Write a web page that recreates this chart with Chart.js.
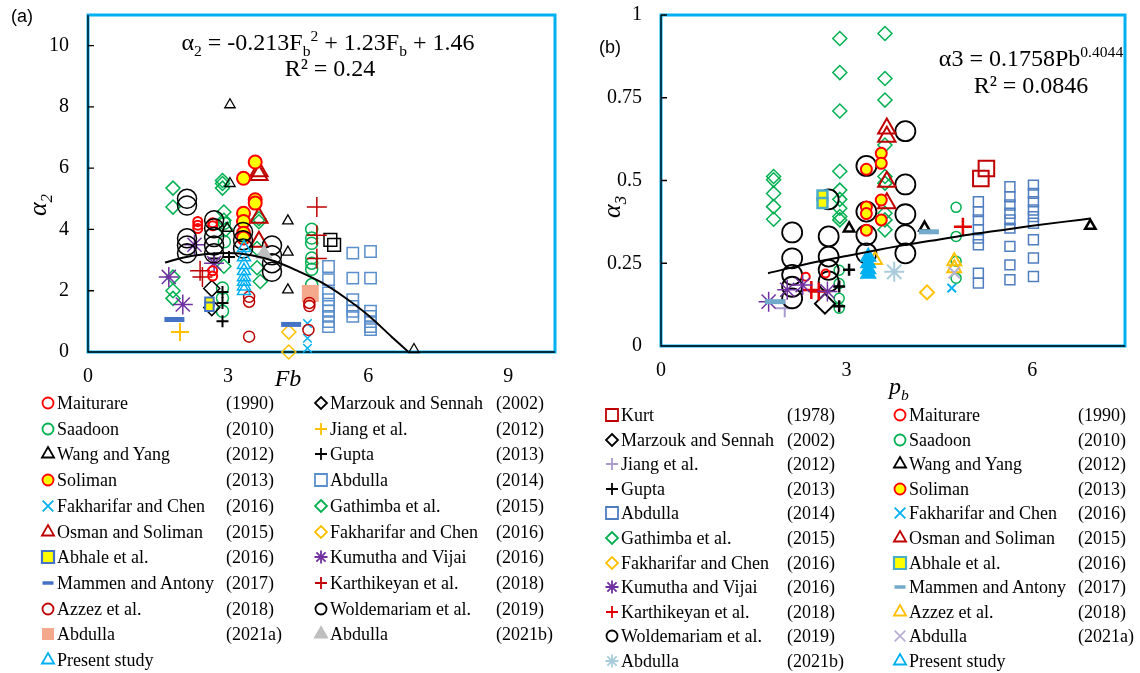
<!DOCTYPE html>
<html>
<head>
<meta charset="utf-8">
<script src="https://cdn.jsdelivr.net/npm/chart.js@4.4.1/dist/chart.umd.min.js"></script>
<style>
  body { margin: 0; background: #fff; }
  #wrap { position: relative; width: 1140px; height: 673px; overflow: hidden;
          font-family: "Liberation Serif", "Times New Roman", serif; color: #000; }
  .cv { position: absolute; top: 0; width: 570px; height: 395px; }
  .t { position: absolute; white-space: nowrap; line-height: 1; transform: translate(-50%, -50%); }
  .t sub, .t sup { font-size: 0.65em; line-height: 0; }
  .lg { position: absolute; white-space: nowrap; font-size: 18px; line-height: 22px; }
  .mk { position: absolute; }
  .tag { position: absolute; font-family: "Liberation Sans", Arial, sans-serif; font-size: 18px; line-height: 1; }
</style>
</head>
<body>
<div id="wrap">
  <div class="cv" style="left:0"><canvas id="chartA" width="570" height="395"></canvas></div>
  <div class="cv" style="left:570px"><canvas id="chartB" width="570" height="395"></canvas></div>

  <div class="tag" style="left:11px;top:7px">(a)</div>
  <div class="tag" style="left:599px;top:38px">(b)</div>

  <div class="t" style="left:328px;top:42px;font-size:24px">α<sub>2</sub> = -0.213F<sub>b</sub><sup>2</sup> + 1.23F<sub>b</sub> + 1.46</div>
  <div class="t" style="left:330px;top:68px;font-size:24px">R² = 0.24</div>
  <div class="t" style="left:1031px;top:58px;font-size:24px">α3 = 0.1758Pb<sup>0.4044</sup></div>
  <div class="t" style="left:1031px;top:85px;font-size:24px">R² = 0.0846</div>

  <div class="t" style="left:38px;top:205px;font-size:26px;font-style:italic;transform:translate(-50%,-50%) rotate(-90deg)">α<sub>2</sub></div>
  <div class="t" style="left:288px;top:378px;font-size:24px;font-style:italic">Fb</div>
  <div class="t" style="left:612px;top:207px;font-size:26px;font-style:italic;transform:translate(-50%,-50%) rotate(-90deg)">α<sub>3</sub></div>
  <div class="t" style="left:899px;top:386px;font-size:24px;font-style:italic">p<sub>b</sub></div>
</div>

<script>
// ---------- axes ----------
const xTicksA = [0, 3, 6, 9];
const yTicksA = [0, 2, 4, 6, 8, 10];
const xTicksB = [0, 3, 6];
const yTicksB = [0, 0.25, 0.5, 0.75, 1];

// ---------- panel (a) : alpha2 vs Fb ----------
const aTrend = [[1.65, 2.92], [2.0, 3.07], [2.5, 3.19], [3.0, 3.23], [3.5, 3.16], [4.0, 2.96],
                [4.5, 2.64], [5.0, 2.27], [5.5, 1.78], [6.0, 1.2], [6.5, 0.5], [6.85, 0.02]];
const aMaiturare = [[2.35, 4.26], [2.35, 4.14], [2.35, 4.03], [2.67, 4.22], [2.67, 4.12], [2.67, 2.65], [2.67, 2.48]];
const aSaadoon = [[4.79, 4.01], [4.79, 3.72], [4.79, 3.55], [4.79, 3.07], [4.79, 2.9], [4.79, 2.7], [4.79, 2.2],
                  [2.88, 2.09], [2.88, 1.76], [2.88, 1.33], [2.92, 4.2], [2.92, 3.6]];
const aWang = [[3.04, 8.07], [3.04, 5.5], [2.98, 4.04], [4.28, 4.28], [4.28, 3.26], [4.28, 2.03], [6.98, 0.08]];
const aSoliman = [[3.58, 6.2], [3.33, 5.67], [3.58, 4.97], [3.58, 4.86], [3.33, 4.53], [3.33, 4.26], [3.33, 3.88], [3.33, 3.72]];
const aFakX = [[4.7, 0.93], [4.7, 0.45], [4.7, 0.12]];
const aOsman = [[3.66, 5.9], [3.66, 5.78], [3.66, 4.38], [3.66, 3.6]];
const aAbhale = [[2.6, 1.64], [2.6, 1.48]];
const aMammen = [[1.85, 1.06], [4.35, 0.9]];
const aAzzez = [[3.45, 1.8], [3.45, 1.64], [4.74, 1.6], [4.74, 1.5], [4.72, 0.72], [3.45, 0.5]];
const aAbd21a = [[4.76, 1.91]];
const aPresent = [[3.34, 3.4], [3.34, 3.1], [3.34, 2.85], [3.34, 2.65], [3.34, 2.45], [3.34, 2.3], [3.34, 2.15], [3.34, 2.0]];
const aMarzouk = [[2.65, 2.07], [2.65, 1.45]];
const aJiang = [[1.97, 0.65]];
const aGupta = [[2.88, 1.96], [2.88, 1.6], [2.88, 1.0], [3.02, 3.1], [2.7, 3.05]];
const aAbd14 = [[5.15, 2.79], [5.15, 2.36], [5.15, 1.93], [5.15, 1.71], [5.15, 1.49], [5.15, 1.33], [5.15, 1.16], [5.15, 0.99], [5.15, 0.83],
                [5.67, 3.23], [5.67, 2.41], [5.67, 1.71], [5.67, 1.49], [5.67, 1.33], [5.67, 1.16],
                [6.05, 3.28], [6.05, 2.41], [6.05, 1.33], [6.05, 1.16], [6.05, 0.99], [6.05, 0.83], [6.05, 0.73]];
const aGathimba = [[1.82, 5.35], [1.82, 4.73], [1.82, 2.45], [1.82, 2.0], [1.82, 1.75],
                   [2.88, 5.6], [2.88, 5.5], [2.88, 5.35], [2.91, 4.57], [2.91, 4.3], [2.95, 4.0], [2.91, 2.8],
                   [3.66, 4.35], [3.66, 4.25], [3.62, 3.38], [3.62, 2.75], [3.69, 2.3]];
const aFakD = [[4.3, 0.65], [4.3, 0.0]];
const aKumutha = [[1.73, 2.45], [2.03, 1.55], [2.28, 3.5], [2.7, 2.9]];
const aKarth = [[4.9, 4.73], [4.9, 3.81], [4.9, 3.05], [2.4, 2.65], [2.45, 2.45]];
const aWolde = [[2.12, 5.0], [2.12, 4.78], [2.12, 3.71], [2.12, 3.48], [2.12, 3.22],
                [2.7, 4.3], [2.7, 4.04], [2.7, 3.75], [2.7, 3.48], [2.7, 3.22],
                [3.32, 3.92], [3.32, 3.65], [3.32, 3.38], [3.94, 3.48], [3.94, 3.16], [3.94, 2.9], [3.94, 2.62]];
const aAbd21b = [[3.77, 3.21]];
const aBlackSq = [[5.19, 3.66], [5.27, 3.5]];

// ---------- panel (b) : alpha3 vs pb ----------
const bTrend = [[1.73, 0.22], [2.5, 0.254], [3.0, 0.272], [3.5, 0.29], [4.0, 0.307], [4.5, 0.322],
                [5.0, 0.337], [5.5, 0.35], [6.0, 0.363], [6.5, 0.375], [6.94, 0.385]];
const bKurt = [[5.17, 0.506], [5.26, 0.536]];
const bMaiturare = [[2.34, 0.209], [2.66, 0.219]];
const bMarzouk = [[2.65, 0.128]];
const bSaadoon = [[4.77, 0.419], [4.77, 0.331], [4.77, 0.256], [4.77, 0.205],
                  [2.88, 0.229], [2.88, 0.189], [2.88, 0.144], [2.88, 0.114]];
const bJiang = [[2.0, 0.114]];
const bWang = [[3.04, 0.355], [4.26, 0.358], [6.94, 0.363]];
const bGupta = [[3.04, 0.23], [2.88, 0.18], [2.88, 0.12]];
const bSoliman = [[3.32, 0.534], [3.32, 0.42], [3.32, 0.4], [3.32, 0.35], [3.56, 0.582], [3.56, 0.552], [3.56, 0.441], [3.56, 0.381]];
const bAbd14 = [[5.13, 0.436], [5.13, 0.406], [5.13, 0.381], [5.13, 0.351], [5.13, 0.326], [5.13, 0.306], [5.13, 0.22], [5.13, 0.19],
                [5.64, 0.481], [5.64, 0.451], [5.64, 0.426], [5.64, 0.401], [5.64, 0.381], [5.64, 0.356], [5.64, 0.301], [5.64, 0.245], [5.64, 0.2],
                [6.02, 0.486], [6.02, 0.461], [6.02, 0.436], [6.02, 0.411], [6.02, 0.391], [6.02, 0.371], [6.02, 0.321], [6.02, 0.266], [6.02, 0.21]];
const bFakX = [[4.7, 0.175]];
const bGathimba = [[1.82, 0.512], [1.82, 0.502], [1.82, 0.461], [1.82, 0.421], [1.82, 0.383],
                   [2.89, 0.929], [2.89, 0.826], [2.89, 0.71], [2.89, 0.528], [2.89, 0.471], [2.89, 0.443], [2.89, 0.416], [2.89, 0.391], [2.89, 0.381],
                   [3.62, 0.944], [3.62, 0.808], [3.62, 0.743], [3.62, 0.607], [3.62, 0.512], [3.62, 0.492], [3.62, 0.401], [3.62, 0.381], [3.62, 0.351]];
const bOsman = [[3.65, 0.657], [3.65, 0.632], [3.65, 0.496], [3.65, 0.431]];
const bFakD = [[4.3, 0.162]];
const bAbhale = [[2.61, 0.455], [2.61, 0.432]];
const bKumutha = [[1.74, 0.134], [2.04, 0.17], [2.29, 0.184], [2.69, 0.165]];
const bMammen = [[1.84, 0.134], [4.33, 0.345]];
const bKarth = [[2.43, 0.169], [2.55, 0.165], [4.88, 0.36]];
const bAzzez = [[3.46, 0.26], [4.74, 0.256], [4.74, 0.235]];
const bWolde = [[2.12, 0.343], [2.12, 0.265], [2.12, 0.215], [2.12, 0.179], [2.12, 0.144],
                [2.71, 0.443], [2.71, 0.331], [2.71, 0.27], [2.71, 0.23], [2.71, 0.195],
                [3.32, 0.544], [3.32, 0.406], [3.32, 0.335], [3.32, 0.28],
                [3.95, 0.649], [3.95, 0.488], [3.95, 0.398], [3.95, 0.335], [3.95, 0.28]];
const bAbd21a = [[4.74, 0.222]];
const bAbd21b = [[3.77, 0.224]];
const bPresent = [[3.35, 0.27], [3.35, 0.25], [3.35, 0.232], [3.35, 0.218]];

// ---------- marker styles ----------
const NONE = "rgba(0,0,0,0)";
const stA = {
  maiturare: { shape: "circle", r: 4.5, bw: 2, border: "#FF0000" },
  saadoon:   { shape: "circle", r: 6, bw: 1.5, border: "#00B050" },
  wang:      { shape: "triangle", r: 6, bw: 1.3, border: "#000" },
  soliman:   { shape: "circle", r: 6.5, bw: 2, border: "#FF0000", bg: "#FFFF00" },
  fakX:      { shape: "crossRot", r: 6, bw: 1.5, border: "#00B0F0" },
  osman:     { shape: "triangle", r: 10, bw: 2, border: "#C00000" },
  abhale:    { shape: "rect", r: 6, bw: 2, border: "#4472C4", bg: "#FFFF00" },
  mammen:    { shape: "line", r: 10, bw: 5, border: "#4472C4" },
  azzez:     { shape: "circle", r: 5.5, bw: 1.5, border: "#C00000" },
  abd21a:    { shape: "rect", r: 12, bw: 0, border: "#F4A98C", bg: "#F4A98C" },
  present:   { shape: "triangle", r: 7.5, bw: 1.5, border: "#00B0F0" },
  marzouk:   { shape: "rectRot", r: 8, bw: 1.5, border: "#000" },
  jiang:     { shape: "cross", r: 9, bw: 2, border: "#FFC000" },
  gupta:     { shape: "cross", r: 6, bw: 2, border: "#000" },
  abd14:     { shape: "rect", r: 8, bw: 1.5, border: "#5B8FCC" },
  gathimba:  { shape: "rectRot", r: 7, bw: 1.5, border: "#00B050" },
  fakD:      { shape: "rectRot", r: 7, bw: 1.5, border: "#FFC000" },
  kumutha:   { shape: "star", r: 10, bw: 1.5, border: "#7030A0" },
  karth:     { shape: "cross", r: 10, bw: 1.5, border: "#C00000" },
  wolde:     { shape: "circle", r: 9.5, bw: 1.5, border: "#000" },
  abd21b:    { shape: "triangle", r: 9, bw: 1, border: "#BFBFBF", bg: "#BFBFBF" },
  blackSq:   { shape: "rect", r: 9, bw: 1.5, border: "#000" }
};
const stB = {
  kurt:      { shape: "rect", r: 11, bw: 2, border: "#C00000" },
  maiturare: { shape: "circle", r: 4, bw: 2, border: "#FF0000" },
  marzouk:   { shape: "rectRot", r: 10, bw: 2, border: "#000" },
  saadoon:   { shape: "circle", r: 5, bw: 1.5, border: "#00B050" },
  jiang:     { shape: "cross", r: 9, bw: 2, border: "#A99BCF" },
  wang:      { shape: "triangle", r: 6, bw: 2.5, border: "#000" },
  gupta:     { shape: "cross", r: 6, bw: 2.5, border: "#000" },
  soliman:   { shape: "circle", r: 5.5, bw: 2, border: "#FF0000", bg: "#FFFF00" },
  abd14:     { shape: "rect", r: 7, bw: 1.5, border: "#4F7EC0" },
  fakX:      { shape: "crossRot", r: 6, bw: 2, border: "#00B0F0" },
  gathimba:  { shape: "rectRot", r: 7, bw: 1.5, border: "#00B050" },
  osman:     { shape: "triangle", r: 10, bw: 2, border: "#C00000" },
  fakD:      { shape: "rectRot", r: 7, bw: 2, border: "#FFC000" },
  abhale:    { shape: "rect", r: 7, bw: 2.5, border: "#4BACC6", bg: "#FFFF00" },
  kumutha:   { shape: "star", r: 10, bw: 1.5, border: "#7030A0" },
  mammen:    { shape: "line", r: 10, bw: 5, border: "#72AACC" },
  karth:     { shape: "cross", r: 9, bw: 2.5, border: "#E00000" },
  azzez:     { shape: "triangle", r: 8, bw: 2, border: "#FFC000" },
  wolde:     { shape: "circle", r: 10, bw: 1.8, border: "#000" },
  abd21a:    { shape: "crossRot", r: 8, bw: 2, border: "#B8B0D4" },
  abd21b:    { shape: "star", r: 10, bw: 2, border: "#A8CCDC" },
  present:   { shape: "triangle", r: 8, bw: 2, border: "#00B0F0", bg: "#00B0F0", legendOpen: true }
};

// ---------- legends ----------
const legendA = [
  ["maiturare", "Maiturare", "(1990)"], ["saadoon", "Saadoon", "(2010)"], ["wang", "Wang and Yang", "(2012)"],
  ["soliman", "Soliman", "(2013)"], ["fakX", "Fakharifar and Chen", "(2016)"], ["osman", "Osman and Soliman", "(2015)"],
  ["abhale", "Abhale et al.", "(2016)"], ["mammen", "Mammen and Antony", "(2017)"], ["azzez", "Azzez et al.", "(2018)"],
  ["abd21a", "Abdulla", "(2021a)"], ["present", "Present study", ""],
  ["marzouk", "Marzouk and Sennah", "(2002)"], ["jiang", "Jiang et al.", "(2012)"], ["gupta", "Gupta", "(2013)"],
  ["abd14", "Abdulla", "(2014)"], ["gathimba", "Gathimba et al.", "(2015)"], ["fakD", "Fakharifar and Chen", "(2016)"],
  ["kumutha", "Kumutha and Vijai", "(2016)"], ["karth", "Karthikeyan et al.", "(2018)"], ["wolde", "Woldemariam et al.", "(2019)"],
  ["abd21b", "Abdulla", "(2021b)"]
];
const legendB = [
  ["kurt", "Kurt", "(1978)"], ["marzouk", "Marzouk and Sennah", "(2002)"], ["jiang", "Jiang et al.", "(2012)"],
  ["gupta", "Gupta", "(2013)"], ["abd14", "Abdulla", "(2014)"], ["gathimba", "Gathimba et al.", "(2015)"],
  ["fakD", "Fakharifar and Chen", "(2016)"], ["kumutha", "Kumutha and Vijai", "(2016)"], ["karth", "Karthikeyan et al.", "(2018)"],
  ["wolde", "Woldemariam et al.", "(2019)"], ["abd21b", "Abdulla", "(2021b)"],
  ["maiturare", "Maiturare", "(1990)"], ["saadoon", "Saadoon", "(2010)"], ["wang", "Wang and Yang", "(2012)"],
  ["soliman", "Soliman", "(2013)"], ["fakX", "Fakharifar and Chen", "(2016)"], ["osman", "Osman and Soliman", "(2015)"],
  ["abhale", "Abhale et al.", "(2016)"], ["mammen", "Mammen and Antony", "(2017)"], ["azzez", "Azzez et al.", "(2018)"],
  ["abd21a", "Abdulla", "(2021a)"], ["present", "Present study", ""]
];

function pathMark(ctx, shape, x, y, r) {
  const d = r * Math.SQRT1_2;
  ctx.beginPath();
  switch (shape) {
    case "circle": ctx.arc(x, y, r, 0, Math.PI * 2); break;
    case "triangle":
      ctx.moveTo(x, y - r); ctx.lineTo(x + r * 0.866, y + r * 0.5); ctx.lineTo(x - r * 0.866, y + r * 0.5); ctx.closePath(); break;
    case "rect": ctx.rect(x - d, y - d, 2 * d, 2 * d); break;
    case "rectRot":
      ctx.moveTo(x, y - r); ctx.lineTo(x + r, y); ctx.lineTo(x, y + r); ctx.lineTo(x - r, y); ctx.closePath(); break;
    case "cross": ctx.moveTo(x - r, y); ctx.lineTo(x + r, y); ctx.moveTo(x, y - r); ctx.lineTo(x, y + r); break;
    case "crossRot": ctx.moveTo(x - d, y - d); ctx.lineTo(x + d, y + d); ctx.moveTo(x - d, y + d); ctx.lineTo(x + d, y - d); break;
    case "star":
      ctx.moveTo(x - r, y); ctx.lineTo(x + r, y); ctx.moveTo(x, y - r); ctx.lineTo(x, y + r);
      ctx.moveTo(x - d, y - d); ctx.lineTo(x + d, y + d); ctx.moveTo(x - d, y + d); ctx.lineTo(x + d, y - d); break;
    case "line": ctx.moveTo(x - r, y); ctx.lineTo(x + r, y); break;
  }
}

// legend symbol size per shape
const legendR = { circle: 5.5, triangle: 7, rect: 8.5, rectRot: 6, cross: 6, crossRot: 7.5, star: 6.5, line: 5.5 };

function buildLegend(entries, st, cols, y0, step) {
  const wrap = document.getElementById("wrap");
  const half = Math.ceil(entries.length / 2);
  entries.forEach((e, i) => {
    const col = cols[i < half ? 0 : 1];
    const y = y0 + (i < half ? i : i - half) * step;
    const s = st[e[0]];
    const c = document.createElement("canvas");
    c.width = 22; c.height = 22; c.className = "mk";
    c.style.left = (col.mk - 11) + "px"; c.style.top = (y - 11) + "px";
    const ctx = c.getContext("2d");
    const r = legendR[s.shape];
    pathMark(ctx, s.shape, 11, 11, r);
    if (s.bg && !s.legendOpen) { ctx.fillStyle = s.bg; ctx.fill(); }
    if (s.bw > 0) {
      ctx.lineWidth = s.shape === "line" ? 3.5 : (s.shape === "rect" && s.bg ? 2.2 : 1.8);
      ctx.strokeStyle = s.border; ctx.stroke();
    }
    wrap.appendChild(c);
    const n = document.createElement("div");
    n.className = "lg"; n.textContent = e[1];
    n.style.left = col.name + "px"; n.style.top = (y - 11) + "px";
    wrap.appendChild(n);
    if (e[2]) {
      const yr = document.createElement("div");
      yr.className = "lg"; yr.textContent = e[2];
      yr.style.left = col.year + "px"; yr.style.top = (y - 11) + "px";
      wrap.appendChild(yr);
    }
  });
}

buildLegend(legendA, stA, [{ mk: 48, name: 57, year: 226 }, { mk: 321, name: 330, year: 496 }], 403, 25.7);
buildLegend(legendB, stB, [{ mk: 612, name: 621, year: 787 }, { mk: 900, name: 909, year: 1078 }], 415, 24.6);

// ---------- charts ----------
function ds(points, s, label) {
  return {
    label, data: points.map(p => ({ x: p[0], y: p[1] })),
    pointStyle: s.shape, pointRadius: s.r, pointHoverRadius: s.r,
    pointBorderWidth: s.bw, pointBorderColor: s.border,
    pointBackgroundColor: s.bg || NONE, showLine: false, clip: false
  };
}
function trend(points) {
  return {
    label: "trend", data: points.map(p => ({ x: p[0], y: p[1] })),
    showLine: true, pointRadius: 0, borderColor: "#000", borderWidth: 2,
    cubicInterpolationMode: "monotone", fill: false
  };
}

const framePlugin = {
  id: "frame",
  beforeDatasetsDraw(chart) {
    const { ctx, chartArea: a } = chart;
    ctx.save();
    ctx.strokeStyle = "#00B0F0"; ctx.lineWidth = 3;
    ctx.strokeRect(a.left, a.top, a.right - a.left, a.bottom - a.top);
    ctx.strokeStyle = "#000"; ctx.lineWidth = 1.3;
    ctx.beginPath();
    ctx.moveTo(a.left, a.top); ctx.lineTo(a.left, a.bottom); ctx.lineTo(a.right, a.bottom);
    const ys = chart.scales.y;
    ys.ticks.forEach(t => {
      const py = ys.getPixelForValue(t.value);
      ctx.moveTo(a.left, py); ctx.lineTo(a.left + 6, py);
    });
    ctx.stroke();
    ctx.restore();
  }
};

function makeChart(id, datasets, xMax, yMax, xTicks, yTicks, yWidth, xHeight, padRight) {
  const tickFont = { family: "'Liberation Serif', 'Times New Roman', serif", size: 20 };
  return new Chart(document.getElementById(id), {
    type: "scatter",
    data: { datasets },
    options: {
      responsive: false, animation: false, events: [],
      layout: { padding: { left: 0, top: 15, right: padRight, bottom: 0 } },
      plugins: { legend: { display: false }, tooltip: { enabled: false } },
      scales: {
        x: {
          type: "linear", min: 0, max: xMax,
          grid: { display: false, drawTicks: false }, border: { display: false },
          ticks: { font: tickFont, color: "#000", padding: 13, callback: v => String(v) },
          afterBuildTicks: s => { s.ticks = xTicks.map(v => ({ value: v })); },
          afterFit: s => { s.height = xHeight; s.paddingLeft = 0; s.paddingRight = 0; }
        },
        y: {
          type: "linear", min: 0, max: yMax,
          grid: { display: false, drawTicks: false }, border: { display: false },
          ticks: { font: tickFont, color: "#000", padding: 19, callback: v => String(v) },
          afterBuildTicks: s => { s.ticks = yTicks.map(v => ({ value: v })); },
          afterFit: s => { s.width = yWidth; s.paddingTop = 0; s.paddingBottom = 0; }
        }
      }
    },
    plugins: [framePlugin]
  });
}

makeChart("chartA", [
  trend(aTrend),
  ds(aPresent, stA.present, "Present study"),
  ds(aAbd21b, stA.abd21b, "Abdulla (2021b)"),
  ds(aWolde, stA.wolde, "Woldemariam et al. (2019)"),
  ds(aSoliman, stA.soliman, "Soliman (2013)"),
  ds(aOsman, stA.osman, "Osman and Soliman (2015)"),
  ds(aMaiturare, stA.maiturare, "Maiturare (1990)"),
  ds(aAzzez, stA.azzez, "Azzez et al. (2018)"),
  ds(aKarth, stA.karth, "Karthikeyan et al. (2018)"),
  ds(aKumutha, stA.kumutha, "Kumutha and Vijai (2016)"),
  ds(aAbhale, stA.abhale, "Abhale et al. (2016)"),
  ds(aMammen, stA.mammen, "Mammen and Antony (2017)"),
  ds(aMarzouk, stA.marzouk, "Marzouk and Sennah (2002)"),
  ds(aGupta, stA.gupta, "Gupta (2013)"),
  ds(aWang, stA.wang, "Wang and Yang (2012)"),
  ds(aJiang, stA.jiang, "Jiang et al. (2012)"),
  ds(aFakX, stA.fakX, "Fakharifar and Chen (2016)"),
  ds(aFakD, stA.fakD, "Fakharifar and Chen (2016)"),
  ds(aAbd21a, stA.abd21a, "Abdulla (2021a)"),
  ds(aAbd14, stA.abd14, "Abdulla (2014)"),
  ds(aBlackSq, stA.blackSq, ""),
  ds(aSaadoon, stA.saadoon, "Saadoon (2010)"),
  ds(aGathimba, stA.gathimba, "Gathimba et al. (2015)")
], 10, 11, xTicksA, yTicksA, 88, 43, 12);

makeChart("chartB", [
  trend(bTrend),
  ds(bPresent, stB.present, "Present study"),
  ds(bAbd21b, stB.abd21b, "Abdulla (2021b)"),
  ds(bAbd21a, stB.abd21a, "Abdulla (2021a)"),
  ds(bAzzez, stB.azzez, "Azzez et al. (2018)"),
  ds(bMammen, stB.mammen, "Mammen and Antony (2017)"),
  ds(bKumutha, stB.kumutha, "Kumutha and Vijai (2016)"),
  ds(bKarth, stB.karth, "Karthikeyan et al. (2018)"),
  ds(bMaiturare, stB.maiturare, "Maiturare (1990)"),
  ds(bSoliman, stB.soliman, "Soliman (2013)"),
  ds(bOsman, stB.osman, "Osman and Soliman (2015)"),
  ds(bAbhale, stB.abhale, "Abhale et al. (2016)"),
  ds(bWolde, stB.wolde, "Woldemariam et al. (2019)"),
  ds(bMarzouk, stB.marzouk, "Marzouk and Sennah (2002)"),
  ds(bGupta, stB.gupta, "Gupta (2013)"),
  ds(bJiang, stB.jiang, "Jiang et al. (2012)"),
  ds(bWang, stB.wang, "Wang and Yang (2012)"),
  ds(bFakX, stB.fakX, "Fakharifar and Chen (2016)"),
  ds(bFakD, stB.fakD, "Fakharifar and Chen (2016)"),
  ds(bKurt, stB.kurt, "Kurt (1978)"),
  ds(bAbd14, stB.abd14, "Abdulla (2014)"),
  ds(bSaadoon, stB.saadoon, "Saadoon (2010)"),
  ds(bGathimba, stB.gathimba, "Gathimba et al. (2015)")
], 7.5, 1, xTicksB, yTicksB, 91, 49, 8);
</script>
</body>
</html>
